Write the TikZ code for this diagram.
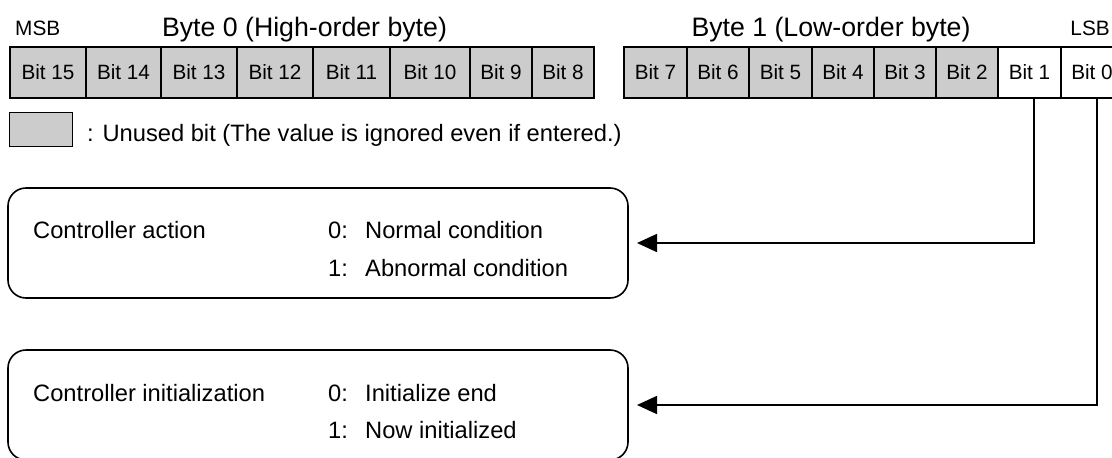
\documentclass[tikz,border=0pt]{standalone}
\usepackage{fontspec}
\setmainfont{Liberation Sans}
\usetikzlibrary{arrows.meta,calc}
\definecolor{unused}{RGB}{204,204,204}
\tikzset{
  cell/.style={draw, line width=1.8pt, inner sep=0pt, outer sep=0pt,
    minimum height=51pt, font=\fontsize{20.7}{24}\selectfont},
  infobox/.style={draw, line width=1.6pt, rounded corners=18pt,
    inner sep=0pt, outer sep=0pt, minimum width=620pt, minimum height=110pt},
  label/.style={inner sep=0pt, anchor=base west, font=\fontsize{23.7}{28}\selectfont},
  title/.style={inner sep=0pt, anchor=base, font=\fontsize{26.7}{30}\selectfont},
  small/.style={inner sep=0pt, font=\fontsize{20.8}{24}\selectfont},
  link/.style={line width=1.6pt, -{Triangle[length=20pt,width=18pt]}}
}
\begin{document}
\begin{tikzpicture}[x=1pt,y=-1pt]
\path[use as bounding box, clip] (0,0) rectangle (1112,458);

% byte titles
\node[small, anchor=base west] (msb) at (15,35) {MSB};
\node[small, anchor=base east] (lsb) at (1110,35) {LSB};
\node[title] (byte0) at (304.5,36) {Byte 0 (High-order byte)};
\node[title] (byte1) at (831,36) {Byte 1 (Low-order byte)};

% bit cells: name / left / right / fill
\foreach \n/\a/\b/\f in {15/10/86/unused, 14/86/161/unused, 13/161/237/unused,
    12/237/313/unused, 11/313/390/unused, 10/390/470/unused, 9/470/532/unused,
    8/532/594/unused, 7/624/687/unused, 6/687/749/unused, 5/749/812/unused,
    4/812/874/unused, 3/874/936/unused, 2/936/998/unused, 1/998/1061/white,
    0/1061/1123/white}
  \node[cell, fill=\f, minimum width={(\b-\a)*1pt}] (b\n) at ({(\a+\b)/2},72.5) {Bit \n};

% legend
\node[draw, line width=1pt, fill=unused, inner sep=0pt, minimum width=63pt,
  minimum height=34pt] (swatch) at (40.5,129) {};
\node[label] (legend) at (87,141.5)
  {: Unused bit (The value is ignored even if entered.)};

% description boxes
\node[infobox] (act) at (318,243) {};
\node[label] (actname) at (33,238.5) {Controller action};
\node[label] (act0k) at (328,238.5) {0:};
\node[label] (act0) at (365,238.5) {Normal condition};
\node[label] (act1k) at (328,276.5) {1:};
\node[label] (act1) at (365,276.5) {Abnormal condition};

\node[infobox] (ini) at (318,405) {};
\node[label] (ininame) at (33,401.5) {Controller initialization};
\node[label] (ini0k) at (328,401.5) {0:};
\node[label] (ini0) at (365,401.5) {Initialize end};
\node[label] (ini1k) at (328,438.5) {1:};
\node[label] (ini1) at (365,438.5) {Now initialized};

% connectors
\coordinate (actin) at ([xshift=9pt]act.east);
\coordinate (iniin) at ([xshift=9pt]ini.east);
\draw[link] ([xshift=4.5pt]b1.south) |- (actin);
\draw[link] ([xshift=5pt]b0.south) |- (iniin);
\end{tikzpicture}
\end{document}
